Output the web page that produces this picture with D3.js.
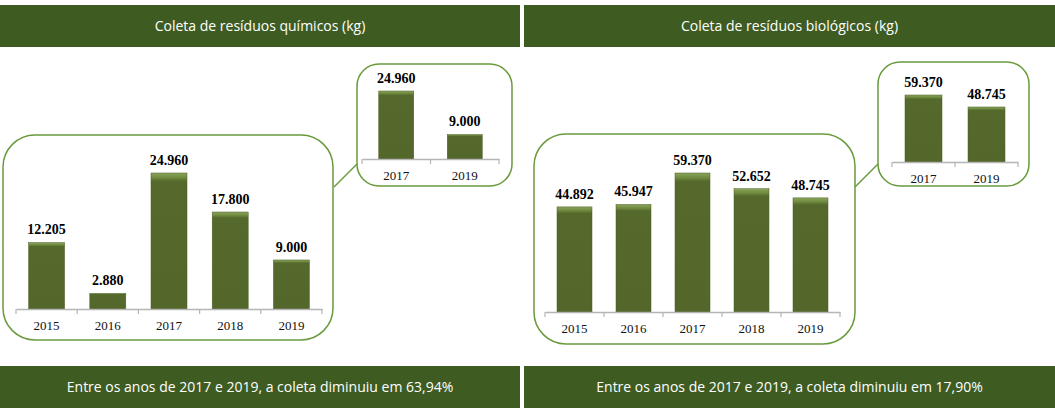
<!DOCTYPE html>
<html><head><meta charset="utf-8">
<script src="https://cdn.jsdelivr.net/npm/d3@7"></script>
<style>body{margin:0;background:#fff}svg{display:block}</style>
</head><body>
<svg id="c" width="1055" height="413"></svg>
<script>
const years = ["2015","2016","2017","2018","2019"];
const quimicos = [12205, 2880, 24960, 17800, 9000];
const biologicos = [44892, 45947, 59370, 52652, 48745];
const insetYears = ["2017","2019"];
const quimicosInset = [24960, 9000];
const biologicosInset = [59370, 48745];
const titles = ["Coleta de resíduos químicos (kg)", "Coleta de resíduos biológicos (kg)"];
const footers = ["Entre os anos de 2017 e 2019, a coleta diminuiu em 63,94%",
                 "Entre os anos de 2017 e 2019, a coleta diminuiu em 17,90%"];

const svg = d3.select("#c");
const defs = svg.append("defs");
const grad = defs.append("linearGradient").attr("id","bg").attr("x1",0).attr("y1",0).attr("x2",0).attr("y2",1);
grad.append("stop").attr("offset","0").attr("stop-color","#8aa65a");
grad.append("stop").attr("offset","0.035").attr("stop-color","#6f8a3f");
grad.append("stop").attr("offset","0.06").attr("stop-color","#55692c");
grad.append("stop").attr("offset","1").attr("stop-color","#53672b");
const fmt = v => d3.format(",")(v).replace(/,/g,".");
const dark = "#3e5c22";

function header(x,w,y,h,text){
  svg.append("rect").attr("x",x).attr("y",y).attr("width",w).attr("height",h).attr("fill",dark);
  svg.append("text").attr("x",x+w/2).attr("y",y+h/2+5).attr("text-anchor","middle")
    .attr("fill","#fff").attr("font-family","Open Sans, sans-serif").attr("font-size",14).text(text);
}
function box(x,y,w,h,r){
  svg.append("rect").attr("x",x).attr("y",y).attr("width",w).attr("height",h).attr("rx",r)
    .attr("fill","#fff").attr("stroke","#6a9a3c").attr("stroke-width",1.5);
}
function chart(cats, vals, x0, x1, axisY, maxH, maxV, barW){
  const x = d3.scaleBand().domain(cats).range([x0,x1]);
  const y = d3.scaleLinear().domain([0,maxV]).range([axisY, axisY-maxH]);
  const g = svg.append("g");
  g.selectAll("rect.b").data(vals).join("rect").attr("class","b")
    .attr("x",(d,i)=>x(cats[i])+x.bandwidth()/2-barW/2).attr("width",barW)
    .attr("y",d=>y(d)).attr("height",d=>axisY-y(d)).attr("fill","url(#bg)")
    .attr("stroke","#4a5e26").attr("stroke-width",0.5);
  g.selectAll("text.v").data(vals).join("text").attr("class","v")
    .attr("x",(d,i)=>x(cats[i])+x.bandwidth()/2).attr("y",d=>y(d)-8)
    .attr("text-anchor","middle").attr("font-family","Liberation Serif, serif")
    .attr("font-weight","bold").attr("font-size",14).text(fmt);
  const ax = g.append("g").attr("transform",`translate(0,${axisY})`)
    .call(d3.axisBottom(x).tickSize(0).tickPadding(12));
  ax.select(".domain").attr("stroke","#b5b5b5").attr("stroke-width",1.5);
  ax.selectAll("text").attr("font-family","Liberation Serif, serif").attr("font-size",13).attr("fill","#111");
  // separators
  g.selectAll("line.s").data(d3.range(cats.length+1)).join("line").attr("class","s")
    .attr("x1",i=>x0+i*x.step()).attr("x2",i=>x0+i*x.step())
    .attr("y1",axisY).attr("y2",axisY+5).attr("stroke","#b5b5b5").attr("stroke-width",1.2);
}

header(0,520,5,42,titles[0]);
header(524,531,5,42,titles[1]);
header(0,520,366,42,footers[0]);
header(524,531,366,42,footers[1]);

// left panel
svg.append("line").attr("x1",334).attr("y1",187).attr("x2",357).attr("y2",164).attr("stroke","#6a9a3c").attr("stroke-width",1.5);
box(3,135,330,205,32);
chart(years, quimicos, 16, 322, 309, 136, 24960, 36);
box(357,64,155,122,22);
chart(insetYears, quimicosInset, 362, 499, 159, 68, 24960, 35);

// right panel
svg.append("line").attr("x1",855).attr("y1",187).attr("x2",878).attr("y2",164).attr("stroke","#6a9a3c").attr("stroke-width",1.5);
box(534,134,321,210,32);
chart(years, biologicos, 545, 840, 312, 139, 59370, 35);
box(878,62,151,124,22);
chart(insetYears, biologicosInset, 892, 1018, 162, 67, 59370, 37);
</script>
</body></html>
